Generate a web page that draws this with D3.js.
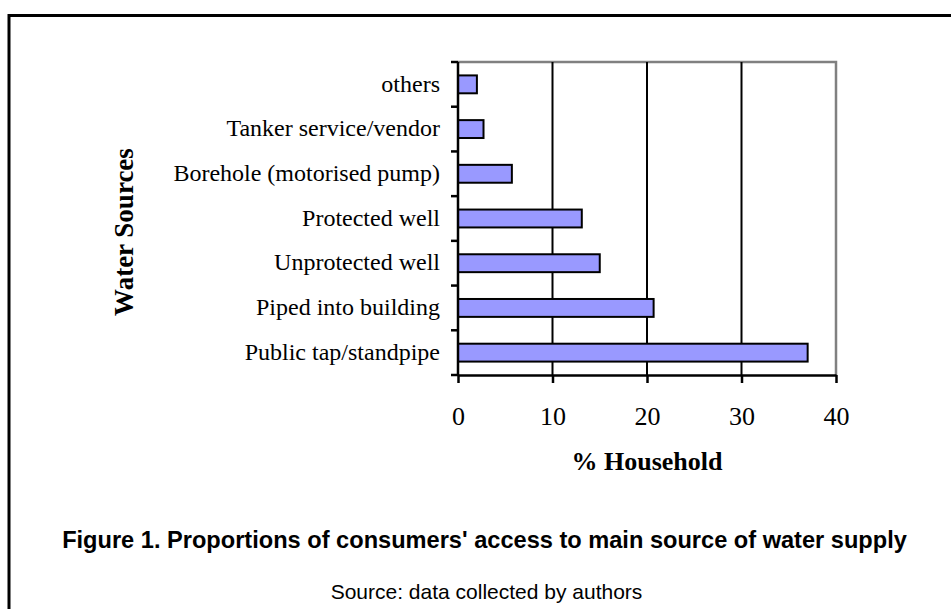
<!DOCTYPE html>
<html>
<head>
<meta charset="utf-8">
<title>Water sources</title>
<style>
  body { margin: 0; background: #fff; }
  svg { display: block; }
  .cat { font-family: "Liberation Serif", "Times New Roman", serif; font-size: 24px; fill: #000; }
  .tick text { font-family: "Liberation Serif", "Times New Roman", serif; font-size: 26px; fill: #000; }
  .axtitle { font-family: "Liberation Serif", "Times New Roman", serif; font-size: 26px; font-weight: bold; }
  .caption { font-family: "Liberation Sans", Arial, sans-serif; }
</style>
</head>
<body>
<svg id="chart" width="951" height="609"></svg>
<script src="https://d3js.org/d3.v7.min.js"></script>
<script>
// categories top to bottom, and % of households
var categories = ["others", "Tanker service/vendor", "Borehole (motorised pump)",
                  "Protected well", "Unprotected well", "Piped into building",
                  "Public tap/standpipe"];
var values = [2.0, 2.7, 5.7, 13.1, 15.0, 20.7, 37.0];
var xTicks = [0, 10, 20, 30, 40];

var svg = d3.select("#chart");

// outer frame (runs past right and bottom edges)
svg.append("path")
    .attr("d", "M9,620 L9,15.5 L960,15.5")
    .attr("fill", "none")
    .attr("stroke", "#000")
    .attr("stroke-width", 3);

var plot = {left: 458, right: 836, top: 62, bottom: 375};

var x = d3.scaleLinear().domain([0, 40]).range([plot.left, plot.right]);
var y = d3.scaleBand().domain(categories).range([plot.top, plot.bottom]).padding(0);

// gray top/right border
svg.append("path")
    .attr("d", "M" + plot.left + "," + plot.top + " L" + plot.right + "," + plot.top +
               " L" + plot.right + "," + plot.bottom)
    .attr("fill", "none")
    .attr("stroke", "#808080")
    .attr("stroke-width", 2.5);

// vertical gridlines
svg.append("g")
    .selectAll("line")
    .data(xTicks.filter(function(d){ return d > 0 && d < 40; }))
    .enter().append("line")
    .attr("x1", function(d){ return x(d); })
    .attr("x2", function(d){ return x(d); })
    .attr("y1", plot.top)
    .attr("y2", plot.bottom)
    .attr("stroke", "#000")
    .attr("stroke-width", 2);

// bars
svg.append("g")
    .selectAll("rect")
    .data(categories)
    .enter().append("rect")
    .attr("x", x(0))
    .attr("y", function(d){ return y(d) + y.bandwidth() * 0.3; })
    .attr("width", function(d, i){ return x(values[i]) - x(0); })
    .attr("height", y.bandwidth() * 0.4)
    .attr("fill", "#9999ff")
    .attr("stroke", "#000")
    .attr("stroke-width", 2);

// bottom axis
var xAxis = svg.append("g")
    .attr("transform", "translate(0," + plot.bottom + ")")
    .call(d3.axisBottom(x).tickValues(xTicks).tickSize(8).tickSizeOuter(0).tickPadding(24));
xAxis.select(".domain").attr("stroke", "#000").attr("stroke-width", 2.5);
xAxis.selectAll(".tick line").attr("stroke", "#000").attr("stroke-width", 2.5);
xAxis.selectAll(".tick text").attr("font-family", null).attr("font-size", null);

// left axis: line + ticks at category boundaries
var bounds = categories.map(function(c){ return y(c); }).concat([plot.bottom]);
svg.append("line")
    .attr("x1", plot.left).attr("x2", plot.left)
    .attr("y1", plot.top).attr("y2", plot.bottom)
    .attr("stroke", "#000").attr("stroke-width", 2.5);
svg.append("g")
    .selectAll("line")
    .data(bounds)
    .enter().append("line")
    .attr("x1", plot.left - 7).attr("x2", plot.left)
    .attr("y1", function(d){ return d; })
    .attr("y2", function(d){ return d; })
    .attr("stroke", "#000").attr("stroke-width", 2.5);

// category labels
svg.append("g")
    .selectAll("text")
    .data(categories)
    .enter().append("text")
    .attr("class", "cat")
    .attr("x", plot.left - 18)
    .attr("y", function(d){ return y(d) + y.bandwidth() / 2; })
    .attr("dy", "0.3em")
    .attr("text-anchor", "end")
    .text(function(d){ return d; });

// axis titles
svg.append("text")
    .attr("class", "axtitle")
    .attr("x", (plot.left + plot.right) / 2)
    .attr("y", 470)
    .attr("text-anchor", "middle")
    .text("% Household");

svg.append("text")
    .attr("class", "axtitle")
    .attr("transform", "translate(133,232) rotate(-90)")
    .attr("text-anchor", "middle")
    .style("font-size", "27px")
    .text("Water Sources");

// caption
svg.append("text")
    .attr("class", "caption")
    .attr("x", 484.5)
    .attr("y", 548)
    .attr("text-anchor", "middle")
    .style("font-size", "23.6px")
    .style("font-weight", "bold")
    .text("Figure 1. Proportions of consumers' access to main source of water supply");

svg.append("text")
    .attr("class", "caption")
    .attr("x", 486.5)
    .attr("y", 599)
    .attr("text-anchor", "middle")
    .style("font-size", "21px")
    .text("Source: data collected by authors");
</script>
</body>
</html>
